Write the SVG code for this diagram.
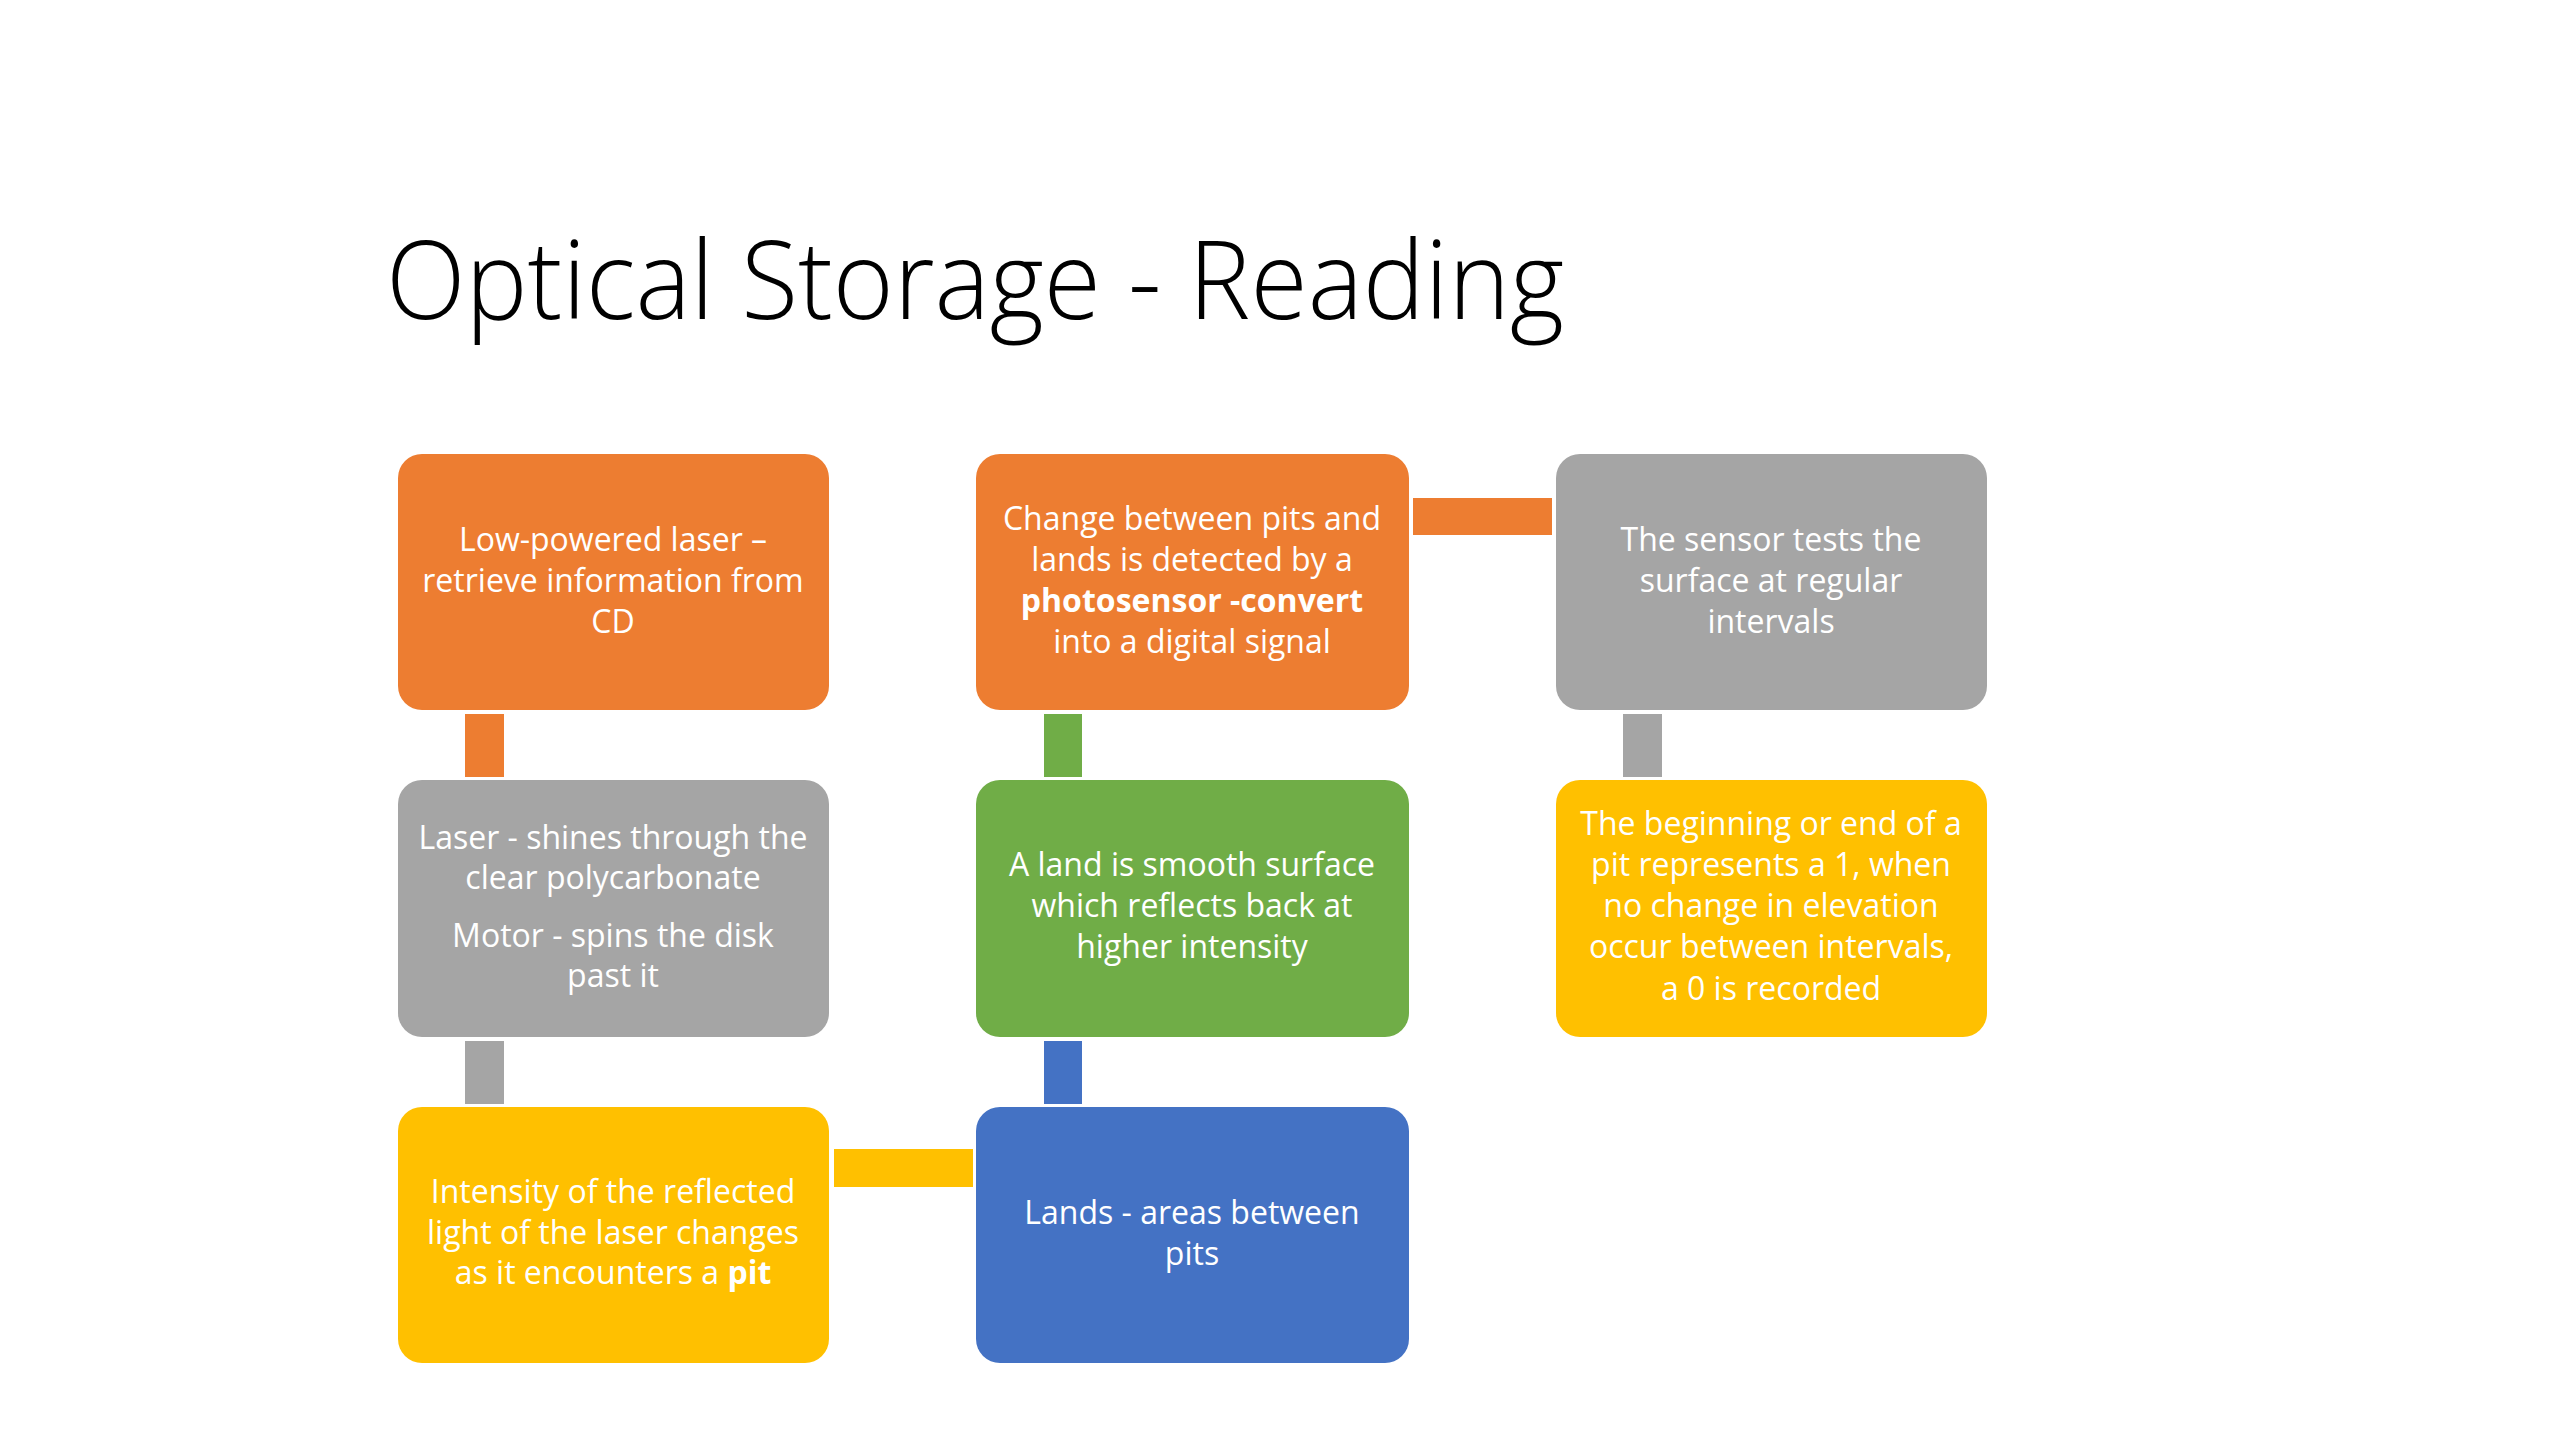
<svg xmlns="http://www.w3.org/2000/svg" width="2560" height="1440" viewBox="0 0 2560 1440">
<style>
.box{stroke:none}
.orange{fill:#ED7D31}
.gray{fill:#A5A5A5}
.green{fill:#70AD47}
.blue{fill:#4472C4}
.yellow{fill:#FFC000}
.t{font-family:"Open Sans","Noto Sans","Liberation Sans",sans-serif;font-size:32px;fill:#ffffff;text-anchor:middle}
.b{font-weight:bold}
.title{font-family:"Open Sans","Noto Sans","Liberation Sans",sans-serif;font-weight:300;font-size:108px;fill:#000000}
</style>
<rect width="2560" height="1440" fill="#ffffff"/>
<text class="title" x="386" y="319" textLength="1178" lengthAdjust="spacingAndGlyphs">Optical Storage - Reading</text>
<g id="connectors">
<rect class="orange" x="465" y="714" width="39" height="63"/>
<rect class="gray" x="465" y="1041" width="39" height="63"/>
<rect class="green" x="1044" y="714" width="38" height="63"/>
<rect class="blue" x="1044" y="1041" width="38" height="63"/>
<rect class="gray" x="1623" y="714" width="39" height="63"/>
<rect class="orange" x="1413" y="498" width="139" height="37"/>
<rect class="yellow" x="834" y="1149" width="139" height="38"/>
</g>
<g id="n1">
<rect class="box orange" x="398" y="454" width="431" height="256" rx="24"/>
<text class="t" x="613" y="551">Low-powered laser –</text>
<text class="t" x="613" y="592">retrieve information from</text>
<text class="t" x="613" y="633">CD</text>
</g>
<g id="n2">
<rect class="box gray" x="398" y="780" width="431" height="257" rx="24"/>
<text class="t" x="613" y="849">Laser - shines through the</text>
<text class="t" x="613" y="889">clear polycarbonate</text>
<text class="t" x="613" y="947">Motor - spins the disk</text>
<text class="t" x="613" y="987">past it</text>
</g>
<g id="n3">
<rect class="box yellow" x="398" y="1107" width="431" height="256" rx="24"/>
<text class="t" x="613" y="1203">Intensity of the reflected</text>
<text class="t" x="613" y="1244">light of the laser changes</text>
<text class="t" x="613" y="1284">as it encounters a <tspan class="b">pit</tspan></text>
</g>
<g id="n4">
<rect class="box blue" x="976" y="1107" width="433" height="256" rx="24"/>
<text class="t" x="1192" y="1224">Lands - areas between</text>
<text class="t" x="1192" y="1265">pits</text>
</g>
<g id="n5">
<rect class="box green" x="976" y="780" width="433" height="257" rx="24"/>
<text class="t" x="1192" y="876">A land is smooth surface</text>
<text class="t" x="1192" y="917">which reflects back at</text>
<text class="t" x="1192" y="958">higher intensity</text>
</g>
<g id="n6">
<rect class="box orange" x="976" y="454" width="433" height="256" rx="24"/>
<text class="t" x="1192" y="530">Change between pits and</text>
<text class="t" x="1192" y="571">lands is detected by a</text>
<text class="t b" x="1192" y="612">photosensor -convert</text>
<text class="t" x="1192" y="653">into a digital signal</text>
</g>
<g id="n7">
<rect class="box gray" x="1556" y="454" width="431" height="256" rx="24"/>
<text class="t" x="1771" y="551">The sensor tests the</text>
<text class="t" x="1771" y="592">surface at regular</text>
<text class="t" x="1771" y="633">intervals</text>
</g>
<g id="n8">
<rect class="box yellow" x="1556" y="780" width="431" height="257" rx="24"/>
<text class="t" x="1771" y="835">The beginning or end of a</text>
<text class="t" x="1771" y="876">pit represents a 1, when</text>
<text class="t" x="1771" y="917">no change in elevation</text>
<text class="t" x="1771" y="958">occur between intervals,</text>
<text class="t" x="1771" y="1000">a 0 is recorded</text>
</g>
</svg>
